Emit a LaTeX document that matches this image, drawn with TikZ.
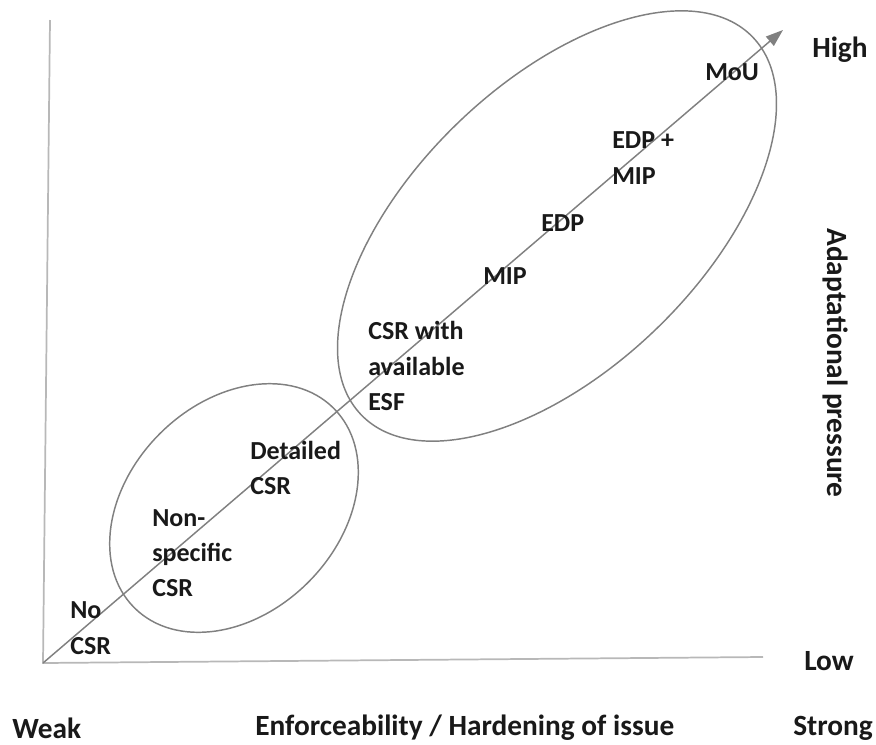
\documentclass[tikz,border=0pt]{standalone}
\usepackage{fontspec}
\setmainfont{Carlito}
\usetikzlibrary{arrows.meta,shapes.geometric}
\definecolor{axisgray}{HTML}{B8B8B8}
\definecolor{linegray}{HTML}{808080}
\tikzset{
  axisline/.style={draw=axisgray, line width=1.3pt},
  trend/.style={draw=linegray, line width=1.1pt, -{Triangle[length=13pt,width=9pt]}},
  group/.style={draw=linegray, line width=1.1pt, ellipse, inner sep=0pt, outer sep=0pt},
  lbl/.style={font=\fontsize{19.5}{26.5}\selectfont\bfseries, inner sep=0pt, align=left, anchor=west, text=black!90},
  axlbl/.style={lbl, font=\fontsize{22}{26.5}\selectfont\bfseries},
}
\begin{document}
\begin{tikzpicture}[x=0.75pt,y=-0.75pt]
\useasboundingbox (0,0) rectangle (876,744);
% ellipses
\node[group, minimum width=408pt, minimum height=214.5pt, rotate=44] (big) at (557,226) {};
\node[group, minimum width=211.5pt, minimum height=157.5pt, rotate=45] (small) at (234,508) {};
% axes
\coordinate (O) at (43,663);
\coordinate (vtop) at (50,20);
\coordinate (hend) at (763,657);
\coordinate (tip) at (783,30);
\draw[axisline] (vtop) -- (O) -- (hend);
\draw[trend] (O) -- (tip);
% labels along the arrow
\node[lbl] (nocsr) at (70,628) {No\\CSR};
\node[lbl] (nonspec) at (152,553) {Non-\\specific\\CSR};
\node[lbl] (detailed) at (250,468) {Detailed\\CSR};
\node[lbl] (csresf) at (368,366) {CSR with\\available\\ESF};
\node[lbl] (mip) at (483,276) {MIP};
\node[lbl] (edp) at (541,223) {EDP};
\node[lbl] (edpmip) at (612,158) {EDP +\\MIP};
\node[lbl] (mou) at (705,72) {MoU};
% axis labels
\node[axlbl] (high) at (812,50) {High};
\node[axlbl] (low) at (804,661) {Low};
\node[axlbl] (weak) at (12,728) {Weak};
\node[axlbl] (enf) at (255,728) {Enforceability / Hardening of issue};
\node[axlbl] (strong) at (793,728) {Strong};
\node[axlbl, anchor=center, rotate=-90] (adapt) at (836,363) {Adaptational pressure};
\end{tikzpicture}
\end{document}
